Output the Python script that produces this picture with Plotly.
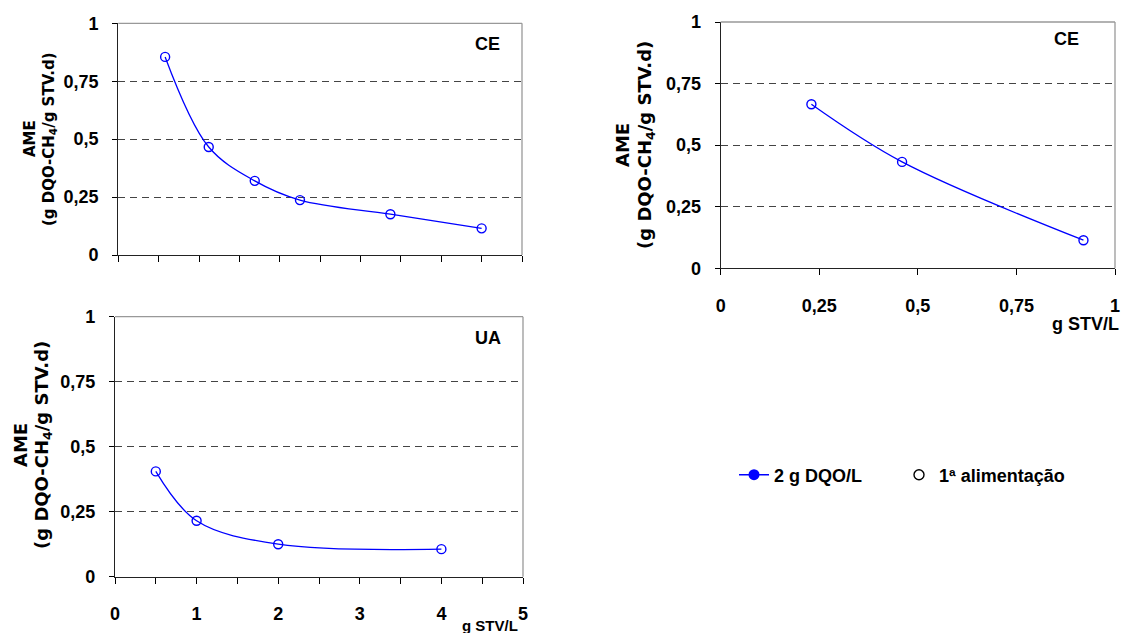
import plotly.graph_objects as go

W, H = 1121, 633

# CE, first panel (top left)
ce_a_x = [0.58, 1.12, 1.69, 2.25, 3.37, 4.5]
ce_a_y = [0.855, 0.466, 0.32, 0.237, 0.176, 0.115]

# CE, second panel (top right)
ce_b_x = [0.23, 0.46, 0.92]
ce_b_y = [0.666, 0.432, 0.114]

# UA (bottom left)
ua_x = [0.5, 1, 2, 4]
ua_y = [0.405, 0.215, 0.125, 0.106]

y_ticks = [0, 0.25, 0.5, 0.75, 1]
y_ticktext = ["0", "0,25", "0,5", "0,75", "1"]
x_ticks_b = [0, 0.25, 0.5, 0.75, 1]
x_ticktext_b = ["0", "0,25", "0,5", "0,75", "1"]
x_ticks_half = [0, 0.5, 1, 1.5, 2, 2.5, 3, 3.5, 4, 4.5, 5]
x_ticks_int = [0, 1, 2, 3, 4, 5]
x_ticktext_int = ["0", "1", "2", "3", "4", "5"]

BLUE = "#0000ff"
FONT = "Liberation Sans"
TITLE_FONT = "DejaVu Sans"


def px(x):
    return x / W


def py(y):
    return 1 - y / H


fig = go.Figure()

panels = [
    (ce_a_x, ce_a_y, "x", "y"),
    (ce_b_x, ce_b_y, "x2", "y2"),
    (ua_x, ua_y, "x3", "y3"),
]
for xs, ys, xa, ya in panels:
    fig.add_trace(
        go.Scatter(
            x=xs,
            y=ys,
            xaxis=xa,
            yaxis=ya,
            mode="lines+markers",
            line=dict(color=BLUE, width=1.3, shape="spline", smoothing=1),
            marker=dict(symbol="circle-open", size=9, color=BLUE, line=dict(width=1.4, color=BLUE)),
            showlegend=False,
            cliponaxis=False,
        )
    )

# legend-only entries
fig.add_trace(
    go.Scatter(
        x=[None], y=[None], mode="lines+markers", name="2 g DQO/L",
        line=dict(color=BLUE, width=1.5),
        marker=dict(symbol="circle", size=11, color=BLUE),
        legend="legend",
    )
)
fig.add_trace(
    go.Scatter(
        x=[None], y=[None], mode="markers", name="1ª alimentação",
        marker=dict(symbol="circle-open", size=10, color="black", line=dict(width=1.4, color="black")),
        legend="legend2",
    )
)

tick_font = dict(family=FONT, size=18, color="black", weight="bold")


def yaxis(domain, anchor):
    return dict(
        domain=domain, anchor=anchor, range=[0, 1], automargin=False,
        tickvals=y_ticks, ticktext=y_ticktext,
        ticks="outside", ticklen=5, tickcolor="black",
        ticklabelstandoff=10,
        showline=True, linecolor="#222", linewidth=1.3,
        showgrid=True, gridcolor="#444", gridwidth=1, griddash="7px,5px",
        zeroline=False, tickfont=tick_font, fixedrange=True,
    )


def xaxis(domain, anchor, tickvals, ticktext=None, minor=False):
    ax = dict(
        domain=domain, anchor=anchor, automargin=False,
        range=[tickvals[0], tickvals[-1]],
        tickvals=tickvals,
        ticks="outside", ticklen=6, tickcolor="black",
        showticklabels=ticktext is not None, ticklabelstandoff=15,
        showline=True, linecolor="#222", linewidth=1.3,
        showgrid=False, zeroline=False, tickfont=tick_font, fixedrange=True,
    )
    if ticktext is not None:
        ax["ticktext"] = ticktext
    if minor:
        ax["minor"] = dict(dtick=0.5, ticks="outside", ticklen=6, tickcolor="black", showgrid=False)
    return ax


legend_font = dict(family=FONT, size=18, color="black", weight="bold")

fig.update_layout(
    width=W, height=H,
    margin=dict(l=0, r=0, t=0, b=0, autoexpand=False),
    paper_bgcolor="white", plot_bgcolor="white",
    font=dict(family=FONT, color="black"),
    xaxis=xaxis([px(118.3), px(522)], "y", x_ticks_half),
    yaxis=yaxis([py(255), py(23.3)], "x"),
    xaxis2=xaxis([px(720.7), px(1115)], "y2", x_ticks_b, x_ticktext_b),
    yaxis2=yaxis([py(268.3), py(22)], "x2"),
    xaxis3=xaxis([px(115), px(523)], "y3", x_ticks_int, x_ticktext_int, minor=True),
    yaxis3=yaxis([py(576.7), py(316.7)], "x3"),
    legend=dict(
        x=px(734), y=py(475), xanchor="left", yanchor="middle",
        font=legend_font, bgcolor="rgba(0,0,0,0)",
    ),
    legend2=dict(
        x=px(899), y=py(475), xanchor="left", yanchor="middle",
        font=legend_font, bgcolor="rgba(0,0,0,0)",
    ),
)

# gray frame on top and right of each plot area
for xa, ya in [("x", "y"), ("x2", "y2"), ("x3", "y3")]:
    for x0, y0, x1, y1 in [(0, 1, 1, 1), (1, 0, 1, 1)]:
        fig.add_shape(
            type="line", xref=f"{xa} domain", yref=f"{ya} domain",
            x0=x0, y0=y0, x1=x1, y1=y1,
            line=dict(color="#999", width=1.3),
        )

label_ame = "AME"
label_unit = "(g DQO-CH<sub>4</sub>/g STV.d)"

annotations = [
    # panel tags
    dict(text="CE", x=px(487), y=py(44), size=18, font=FONT),
    dict(text="CE", x=px(1066), y=py(39), size=18, font=FONT),
    dict(text="UA", x=px(488), y=py(338), size=18, font=FONT),
    # x titles
    dict(text="g STV/L", x=px(1085), y=py(324), size=18, font=FONT),
    dict(text="g STV/L", x=px(490), y=py(625), size=15, font=FONT),
    # y titles
    dict(text=label_ame, x=px(30), y=py(139), size=15, angle=-90, font=TITLE_FONT),
    dict(text=label_unit, x=px(50), y=py(139), size=15, angle=-90, font=TITLE_FONT),
    dict(text=label_ame, x=px(623), y=py(145), size=18, angle=-90, font=TITLE_FONT),
    dict(text=label_unit, x=px(646), y=py(145), size=18, angle=-90, font=TITLE_FONT),
    dict(text=label_ame, x=px(20), y=py(445), size=18, angle=-90, font=TITLE_FONT),
    dict(text=label_unit, x=px(43), y=py(445), size=18, angle=-90, font=TITLE_FONT),
]
for a in annotations:
    fig.add_annotation(
        text=a["text"], x=a["x"], y=a["y"], xref="paper", yref="paper",
        xanchor="center", yanchor="middle", showarrow=False,
        textangle=a.get("angle", 0),
        font=dict(family=a["font"], size=a["size"], color="black", weight="bold"),
    )

# the page body has a default 8px margin; drop it so the figure sits at 0,0
fig.write_html(
    "out.html",
    config={"displayModeBar": False},
    post_script="document.body.style.margin='0';document.body.style.overflow='hidden';",
)
